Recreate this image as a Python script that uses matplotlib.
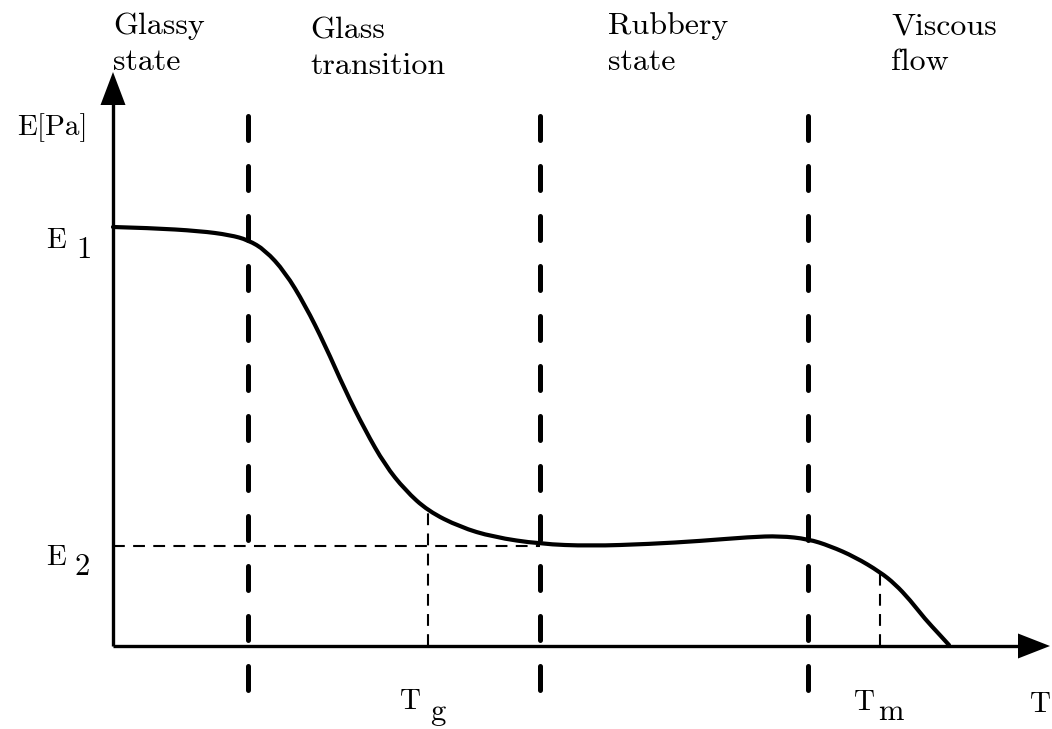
import matplotlib
matplotlib.use("Agg")
import matplotlib.pyplot as plt
from matplotlib.path import Path
from matplotlib.patches import PathPatch

plt.rcParams['font.family'] = ['cmr10', 'DejaVu Serif']
plt.rcParams['lines.scale_dashes'] = False

# ---- data (T, E) in drawing units; origin at axes crossing ----
curve_T = [0, 37, 87, 117, 135, 152, 172, 192, 212, 232, 252, 272, 292, 315,
           347, 380, 427, 477, 537, 587, 637, 667, 695, 717, 742, 767, 782,
           797, 812, 826, 836]
curve_E = [419, 418, 415, 411, 406, 396, 374, 341, 301, 256, 216, 181, 156, 135,
           119, 109, 102, 100, 102, 105, 109, 110, 107, 100, 89, 74, 62,
           46, 27, 12, 1]

region_T = [135, 427, 695]          # thick dashed region borders
E1, E2 = 419, 100
Tg, Tm = 315, 767
Tg_E, Tm_E = 135, 75

region_line1 = ["Glassy", "Glass", "Rubbery", "Viscous"]
region_line2 = ["state", "transition", "state", "flow"]
region_label_T = [0, 197, 495, 778]
region_label_base = [612, 608, 612, 612]

fig = plt.figure(figsize=(10.52, 7.29), dpi=100)
ax = fig.add_axes([0, 0, 1, 1])
ax.set_xlim(-113, 939)
ax.set_ylim(-83, 646)
ax.axis('off')

# axes with arrows
ax.plot([0, 910], [0, 0], color='black', lw=2.4, solid_capstyle='butt')
ax.plot([0, 0], [0, 545], color='black', lw=2.4, solid_capstyle='butt')
ax.arrow(905, 0, 32, 0, width=0.1, head_width=25, head_length=32,
         length_includes_head=True, color='black', lw=0)
ax.arrow(0, 540, 0, 34, width=0.1, head_width=25, head_length=33,
         length_includes_head=True, color='black', lw=0)

# curve: smooth quadratic B-spline drawn through the read points
pts = list(zip(curve_T, curve_E))
verts = [pts[0]]
codes = [Path.MOVETO]
for i in range(1, len(pts) - 1):
    mid = ((pts[i][0] + pts[i + 1][0]) / 2, (pts[i][1] + pts[i + 1][1]) / 2)
    if i == len(pts) - 2:
        mid = pts[-1]
    verts += [pts[i], mid]
    codes += [Path.CURVE3, Path.CURVE3]
ax.add_patch(PathPatch(Path(verts, codes), facecolor='none', edgecolor='black',
                       lw=3.0, capstyle='round', joinstyle='round'))

# thick dashed region borders
for t in region_T:
    ax.plot([t, t], [-43.5, 536], color='black', lw=3.6,
            dashes=(17.3, 18.7), dash_capstyle='round')

# thin dashed reference lines
thin = dict(color='black', lw=1.5, dashes=(8.5, 6.0))
ax.plot([0, region_T[1]], [E2, E2], **thin)
ax.plot([Tg, Tg], [0, Tg_E], **thin)
ax.plot([Tm, Tm], [0, Tm_E], **thin)

# region labels
for l1, l2, t, b in zip(region_line1, region_line2, region_label_T, region_label_base):
    ax.text(t, b, l1, fontsize=23, ha='left', va='baseline')
    ax.text(t, b - 36, l2, fontsize=23, ha='left', va='baseline')

# axis labels
ax.text(-96, 646 - 135, "E[Pa]", fontsize=21, ha='left', va='baseline')
ax.text(917, 646 - 712, "T", fontsize=21, ha='left', va='baseline')

def sublabel(x, y, main, sub, dx, dy):
    ax.text(x, y, main, fontsize=21, ha='left', va='baseline')
    ax.text(x + dx, y - dy, sub, fontsize=22, ha='left', va='baseline')

sublabel(-67, 646 - 248, "E", "1", 30, 10)
sublabel(-67, 646 - 565, "E", "2", 29, 10)
sublabel(Tg - 28, 646 - 709, "T", "g", 30, 11)
sublabel(Tm - 26, 646 - 710, "T", "m", 24, 10)

fig.savefig("out.png", dpi=100)
